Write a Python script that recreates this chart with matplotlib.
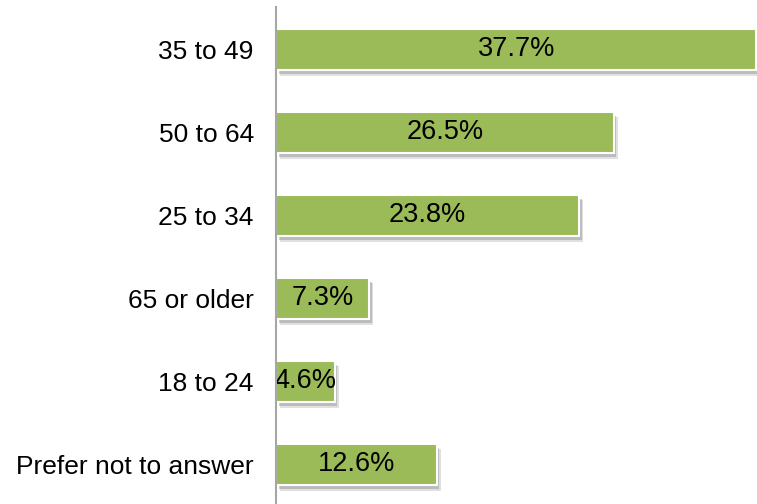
import matplotlib
matplotlib.use("Agg")
import matplotlib.pyplot as plt
import matplotlib.patheffects as pe

categories = ["35 to 49", "50 to 64", "25 to 34", "65 or older", "18 to 24", "Prefer not to answer"]
values = [37.7, 26.5, 23.8, 7.3, 4.6, 12.6]
value_labels = ["37.7%", "26.5%", "23.8%", "7.3%", "4.6%", "12.6%"]

plt.rcParams['font.family'] = ['Liberation Sans', 'DejaVu Sans']

fig = plt.figure(figsize=(7.57, 5.04), dpi=100)
ax = fig.add_axes([276/757, 0, 1 - 276/757, (504-7)/504])

y = list(range(len(categories)))
bars = ax.barh(y, values, height=0.5, color="#9BBB59", edgecolor="white", linewidth=1.5, zorder=3)
for b in bars:
    b.set_path_effects([
        pe.SimplePatchShadow(offset=(3, -4), shadow_rgbFace="#999999", alpha=0.3),
        pe.SimplePatchShadow(offset=(2, -3), shadow_rgbFace="#888888", alpha=0.4),
        pe.Normal()])

for yi, v, lab in zip(y, values, value_labels):
    ax.text(v / 2, yi, lab, ha="center", va="center", fontsize=19.5, color="black", zorder=4)

ax.set_xlim(0, 37.75)
ax.set_ylim(5.476, -0.512)
ax.set_yticks(y)
ax.set_yticklabels(categories, fontsize=19)
ax.tick_params(axis="y", length=0, pad=16)
ax.set_xticks([])
for s in ["top", "right", "bottom"]:
    ax.spines[s].set_visible(False)
ax.spines["left"].set_color("#A6A6A6")
ax.spines["left"].set_linewidth(1.5)
ax.spines["left"].set_zorder(5)

fig.savefig("out.png", dpi=100)
